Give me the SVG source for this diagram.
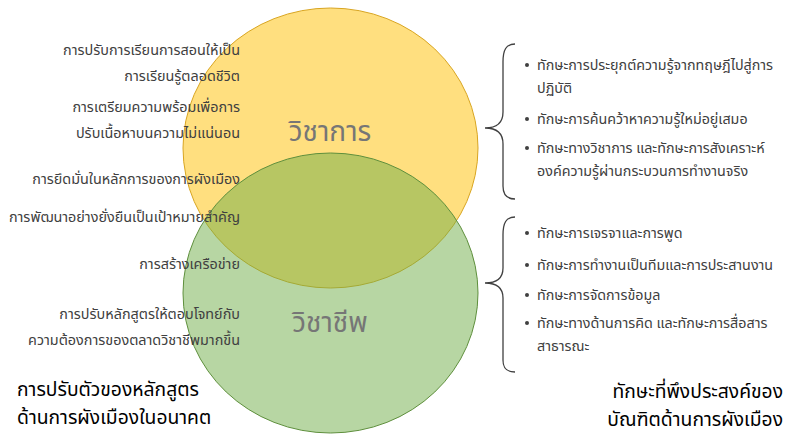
<svg xmlns="http://www.w3.org/2000/svg" width="795" height="438" viewBox="0 0 795 438">
<style>
  text { font-family: "Noto Sans Thai", "Noto Sans", "DejaVu Sans", sans-serif; }
  .l { font-size: 14.4px; fill: #404040; text-anchor: end; }
  .r { font-size: 14.3px; fill: #404040; }
  .t { font-size: 19.3px; fill: #000000; }
  .big { font-size: 28px; fill: #767676; text-anchor: middle; }
  .brace { fill: none; stroke: #404040; stroke-width: 1.3; }
  .dot { fill: #404040; }
</style>
<rect width="795" height="438" fill="#ffffff"/>
<g id="circle-academic">
  <ellipse cx="330.5" cy="148" rx="147.5" ry="140" fill="#FFC000" fill-opacity="0.5" stroke="#D9A520" stroke-width="1"/>
  <text class="big" x="330" y="141">วิชาการ</text>
</g>
<g id="circle-professional">
  <ellipse cx="330.5" cy="293" rx="147.5" ry="140" fill="#70AD47" fill-opacity="0.5" stroke="#5E8F3C" stroke-width="1"/>
  <text class="big" x="330" y="332">วิชาชีพ</text>
</g>
<g id="left-items">
  <text class="l" x="240" y="55">การปรับการเรียนการสอนให้เป็น</text>
  <text class="l" x="240" y="81">การเรียนรู้ตลอดชีวิต</text>
  <text class="l" x="240" y="112">การเตรียมความพร้อมเพื่อการ</text>
  <text class="l" x="240" y="138">ปรับเนื้อหาบนความไม่แน่นอน</text>
  <text class="l" x="240" y="184">การยึดมั่นในหลักการของการผังเมือง</text>
  <text class="l" x="240" y="222">การพัฒนาอย่างยั่งยืนเป็นเป้าหมายสำคัญ</text>
  <text class="l" x="240" y="269">การสร้างเครือข่าย</text>
  <text class="l" x="240" y="319">การปรับหลักสูตรให้ตอบโจทย์กับ</text>
  <text class="l" x="240" y="345">ความต้องการของตลาดวิชาชีพมากขึ้น</text>
</g>
<g id="title-left">
  <text class="t" x="17" y="396">การปรับตัวของหลักสูตร</text>
  <text class="t" x="17" y="424">ด้านการผังเมืองในอนาคต</text>
</g>
<g id="title-right">
  <text class="t" x="783" y="398" text-anchor="end">ทักษะที่พึงประสงค์ของ</text>
  <text class="t" x="783" y="426" text-anchor="end">บัณฑิตด้านการผังเมือง</text>
</g>
<g id="connectors">
  <path class="brace" d="M515,44 C506,44 503,50 503,62 L503,112 C503,122 497,128 485,128 C497,128 503,134 503,144 L503,186 C503,194 506,199 515,199"/>
  <path class="brace" d="M515,217 C506,217 503,223 503,235 L503,268 C503,278 497,283 485,283 C497,283 503,288 503,298 L503,360 C503,368 506,372 515,372"/>
</g>
<g id="skills-academic">
  <circle class="dot" cx="527" cy="65" r="2"/>
  <text class="r" x="537" y="70">ทักษะการประยุกต์ความรู้จากทฤษฎีไปสู่การ</text>
  <text class="r" x="537" y="93">ปฏิบัติ</text>
  <circle class="dot" cx="527" cy="119" r="2"/>
  <text class="r" x="537" y="124">ทักษะการค้นคว้าหาความรู้ใหม่อยู่เสมอ</text>
  <circle class="dot" cx="527" cy="148" r="2"/>
  <text class="r" x="537" y="153">ทักษะทางวิชาการ และทักษะการสังเคราะห์</text>
  <text class="r" x="537" y="176">องค์ความรู้ผ่านกระบวนการทำงานจริง</text>
</g>
<g id="skills-professional">
  <circle class="dot" cx="527" cy="233" r="2"/>
  <text class="r" x="537" y="238">ทักษะการเจรจาและการพูด</text>
  <circle class="dot" cx="527" cy="265" r="2"/>
  <text class="r" x="537" y="270">ทักษะการทำงานเป็นทีมและการประสานงาน</text>
  <circle class="dot" cx="527" cy="295" r="2"/>
  <text class="r" x="537" y="300">ทักษะการจัดการข้อมูล</text>
  <circle class="dot" cx="527" cy="323" r="2"/>
  <text class="r" x="537" y="328">ทักษะทางด้านการคิด และทักษะการสื่อสาร</text>
  <text class="r" x="537" y="351">สาธารณะ</text>
</g>
</svg>
